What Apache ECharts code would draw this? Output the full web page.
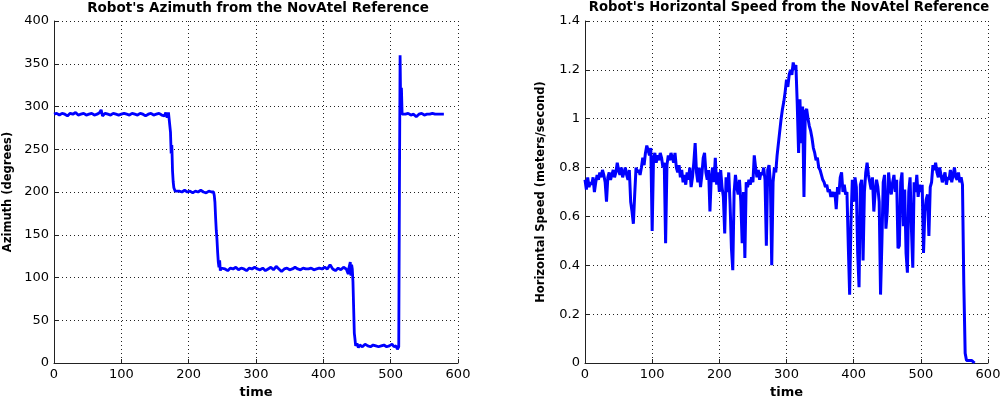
<!DOCTYPE html>
<html>
<head>
<meta charset="utf-8">
<script src="https://cdn.jsdelivr.net/npm/echarts@6/dist/echarts.min.js"></script>
<style>html,body{margin:0;padding:0;background:#fff}#c{width:1000px;height:397px}</style>
</head>
<body>
<div id="c"></div>
<script>
// ---- Left chart: azimuth ----
const azTime = [0,4,8,12,16,20,24,28,32,36,40,44,48,52,56,60,64,68,70,72,76,80,84,88,92,96,100,104,108,112,116,120,124,128,132,136,140,144,148,152,156,160,164,166,168,170,171,172,173,174,175,176,177,178,180,182,186,190,194,198,202,206,210,214,218,222,226,230,234,237,238,239,240,241,242,243,244,245,246,247,248,250,254,258,262,266,270,274,278,282,286,290,294,298,302,306,310,314,318,322,326,330,334,338,342,346,350,354,358,362,366,370,374,378,382,386,390,394,398,402,406,410,414,418,422,426,430,434,437,438,440,441,442,443,444,445,446,447,448,450,452,454,458,462,466,470,474,478,482,486,490,494,498,502,505,508,510,511,512,513,514,515,516,517,518,522,526,530,534,538,542,546,550,554,558,562,566,570,574,579];
const azValue = [291,292,290,292,291,289,292,291,293,290,291,292,290,291,292,290,291,293,296,289,292,291,290,292,291,290,291,292,291,290,292,291,290,292,291,289,291,292,290,291,292,290,289,293,287,293,295,294,270,245,255,225,212,205,201,199,201,200,202,200,201,199,201,200,202,200,199,201,200,200,196,188,170,155,145,130,118,112,120,108,111,112,110,108,111,110,112,109,111,110,108,111,110,112,110,109,111,108,110,112,109,113,110,107,110,111,109,110,112,110,109,111,110,110,111,109,110,111,110,112,110,115,110,108,111,109,112,110,104,111,118,102,115,110,95,65,35,28,20,23,18,21,19,22,20,19,21,20,19,20,21,19,20,22,19,20,16,18,19,200,360,292,322,291,293,291,292,290,291,288,291,292,290,291,291,292,291,291,291,291];
const azTicksY = [0,50,100,150,200,250,300,350,400];

// ---- Right chart: horizontal speed ----
const spTime = [0,2,4,6,8,10,12,14,16,18,20,22,24,26,28,30,32,34,36,38,40,42,44,46,48,50,52,54,56,58,60,62,64,66,68,70,72,74,76,78,80,82,84,86,88,90,92,94,96,98,100,102,104,106,108,110,112,114,116,118,120,122,124,126,128,130,132,134,136,138,140,142,144,146,148,150,152,154,156,158,160,162,164,166,168,170,172,174,176,178,180,182,184,186,188,190,192,194,196,198,200,202,204,206,208,210,212,214,216,218,220,222,224,226,228,230,232,234,236,238,240,242,244,246,248,250,252,254,256,258,260,262,264,266,268,270,272,274,276,278,280,282,284,286,288,290,292,294,296,298,300,302,304,306,308,310,312,314,316,318,320,322,324,326,328,330,332,334,336,338,340,342,344,346,348,350,352,354,356,358,360,362,364,366,368,370,372,374,376,378,380,382,384,386,388,390,392,394,396,398,400,402,404,406,408,410,412,414,416,418,420,422,424,426,428,430,432,434,436,438,440,442,444,446,448,450,452,454,456,458,460,462,464,466,468,470,472,474,476,478,480,482,484,486,488,490,492,494,496,498,500,502,504,506,508,510,512,514,516,518,520,522,524,526,528,530,532,534,536,538,540,542,544,546,548,550,552,554,556,558,560,562,564,566,568,570,572,574,576,578,580];
const spValue = [
0.75,0.71,0.76,0.72,0.74, 0.73,0.76,0.70,0.74,0.77,
0.75,0.78,0.76,0.79,0.77, 0.74,0.66,0.76,0.78,0.75,
0.77,0.79,0.76,0.78,0.82, 0.79,0.77,0.80,0.76,0.78,
0.80,0.77,0.75,0.79,0.66, 0.62,0.57,0.69,0.80,0.78,
0.79,0.77,0.80,0.84,0.81, 0.86,0.89,0.87,0.85,0.88,
0.54,0.84,0.86,0.82,0.85, 0.83,0.86,0.84,0.80,0.82,
0.49,0.81,0.85,0.83,0.86, 0.84,0.82,0.86,0.80,0.78,
0.81,0.76,0.79,0.74,0.77, 0.73,0.78,0.75,0.80,0.72,
0.76,0.82,0.90,0.78,0.74, 0.80,0.72,0.77,0.84,0.86,
0.78,0.75,0.79,0.62,0.76, 0.80,0.74,0.84,0.73,0.78,
0.70,0.79,0.72,0.68,0.53, 0.76,0.70,0.78,0.65,0.47,
0.38,0.70,0.77,0.72,0.69, 0.75,0.66,0.49,0.70,0.43,
0.74,0.72,0.75,0.73,0.76, 0.74,0.85,0.80,0.76,0.79,
0.75,0.78,0.77,0.80,0.75, 0.48,0.79,0.81,0.74,0.40,
0.74,0.80,0.78,0.85,0.90, 0.95,1.00,1.04,1.07,1.11,
1.16,1.13,1.18,1.20,1.18, 1.23,1.20,1.22,1.06,0.86,
1.08,0.90,1.05,0.68,1.03, 1.04,1.00,0.97,0.95,0.92,
0.88,0.86,0.83,0.84,0.80, 0.79,0.77,0.75,0.74,0.72,
0.73,0.70,0.71,0.68,0.70, 0.68,0.70,0.63,0.72,0.69,
0.76,0.78,0.70,0.73,0.69, 0.70,0.48,0.28,0.58,0.75,
0.66,0.76,0.72,0.45,0.31, 0.73,0.75,0.42,0.70,0.78,
0.82,0.77,0.74,0.71,0.76, 0.62,0.70,0.75,0.72,0.66,
0.28,0.49,0.74,0.77,0.55, 0.62,0.78,0.72,0.69,0.74,
0.77,0.70,0.75,0.47,0.48, 0.74,0.78,0.56,0.71,0.45,
0.37,0.70,0.76,0.55,0.39, 0.74,0.70,0.77,0.68,0.73,
0.70,0.73,0.45,0.62,0.67, 0.69,0.52,0.72,0.74,0.81,
0.79,0.82,0.78,0.76,0.80, 0.77,0.74,0.76,0.78,0.73,
0.76,0.75,0.79,0.74,0.77, 0.80,0.76,0.75,0.78,0.74,
0.76,0.73,0.32,0.04,0.01, 0.01,0.01,0.01,0.01,0.01,
0.00];
const spTicksY = [0,0.2,0.4,0.6,0.8,1,1.2,1.4];
const timeTicks = [0,100,200,300,400,500,600];

const leftTitle = "Robot's Azimuth from the NovAtel Reference";
const rightTitle = "Robot's Horizontal Speed from the NovAtel Reference";
const xName = "time";
const leftYName = "Azimuth (degrees)";
const rightYName = "Horizontal Speed (meters/second)";

function zip(a, b) { return a.map((t, i) => [t, b[i]]); }

const chart = echarts.init(document.getElementById('c'), null, {renderer: 'canvas'});
const FONT = 'DejaVu Sans';
const axisColor = '#222';
const gridLine = {show: true, lineStyle: {color: '#222', width: 1, type: [1, 3]}};

function xAxisDef(gi) {
  return {
    gridIndex: gi, type: 'value', min: 0, max: 600, interval: 100,
    name: xName, nameLocation: 'middle', nameGap: 21,
    nameTextStyle: {fontFamily: FONT, fontWeight: 'bold', fontSize: 13, color: '#000'},
    axisLine: {show: true, lineStyle: {color: axisColor, width: 1}},
    axisTick: {show: true, inside: true, length: 4, lineStyle: {color: axisColor}},
    axisLabel: {fontFamily: FONT, fontSize: 13, color: '#000', margin: 5},
    splitLine: gridLine
  };
}
function yAxisDef(gi, max, interval, name, gap, fmt) {
  return {
    gridIndex: gi, type: 'value', min: 0, max: max, interval: interval,
    name: name, nameLocation: 'middle', nameGap: gap, nameRotate: 90,
    nameTextStyle: {fontFamily: FONT, fontWeight: 'bold', fontSize: 11.5, color: '#000'},
    axisLine: {show: true, lineStyle: {color: axisColor, width: 1}},
    axisTick: {show: true, inside: true, length: 4, lineStyle: {color: axisColor}},
    axisLabel: {fontFamily: FONT, fontSize: 13, color: '#000', margin: 5, formatter: fmt},
    splitLine: gridLine
  };
}

chart.setOption({
  animation: false,
  backgroundColor: '#fff',
  title: [
    {text: leftTitle, left: 253, top: -4, textAlign: 'center',
     textStyle: {fontFamily: FONT, fontWeight: 'bold', fontSize: 13.5, color: '#000'}},
    {text: rightTitle, left: 784, top: -4, textAlign: 'center',
     textStyle: {fontFamily: FONT, fontWeight: 'bold', fontSize: 13.2, color: '#000'}}
  ],
  grid: [
    {left: 54, top: 21, width: 404, height: 342, outerBoundsMode: 'none', containLabel: false},
    {left: 585, top: 21, width: 403, height: 342, outerBoundsMode: 'none', containLabel: false}
  ],
  xAxis: [xAxisDef(0), xAxisDef(1)],
  yAxis: [
    yAxisDef(0, 400, 50, leftYName, 40, v => String(v)),
    yAxisDef(1, 1.4, 0.2, rightYName, 38, v => String(Math.round(v * 10) / 10))
  ],
  series: [
    {type: 'line', xAxisIndex: 0, yAxisIndex: 0, data: zip(azTime, azValue),
     showSymbol: false, symbol: 'none', lineStyle: {color: '#0000ff', width: 2.8}, clip: true},
    {type: 'line', xAxisIndex: 1, yAxisIndex: 1, data: zip(spTime, spValue),
     showSymbol: false, symbol: 'none', lineStyle: {color: '#0000ff', width: 3}, clip: true}
  ]
});
</script>
</body>
</html>
